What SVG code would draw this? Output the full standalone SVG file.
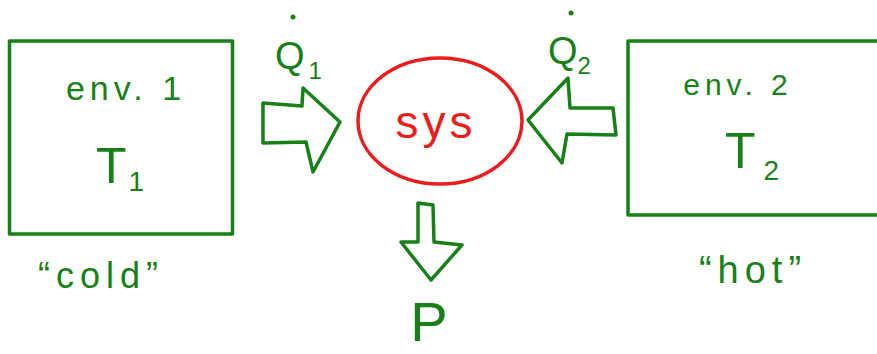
<svg xmlns="http://www.w3.org/2000/svg" width="877" height="354" viewBox="0 0 877 354">
<style>
.g{fill:none;stroke:#178017;stroke-width:3.5;stroke-linejoin:round;stroke-linecap:round}
.gt{fill:#178017;font-family:"Liberation Sans",Arial,sans-serif}
.r{fill:none;stroke:#ec1c1c;stroke-width:3.5}
.rt{fill:#ec1c1c;font-family:"Liberation Sans",Arial,sans-serif}
</style>
<rect width="877" height="354" fill="#fff"/>
<g id="env1">
<rect class="g" x="9.5" y="41" width="223" height="193"/>
<text class="gt" x="126" y="100" font-size="34" text-anchor="middle" letter-spacing="5">env. 1</text>
<text class="gt" x="120" y="183" font-size="50" text-anchor="middle">T<tspan font-size="28" dx="2" dy="8">1</tspan></text>
<text class="gt" x="101" y="288" font-size="36" text-anchor="middle" letter-spacing="6">“cold”</text>
</g>
<g id="env2">
<rect class="g" x="628" y="41" width="260" height="174"/>
<text class="gt" x="738" y="95" font-size="30" text-anchor="middle" letter-spacing="5">env. 2</text>
<text class="gt" x="752" y="168" font-size="50" text-anchor="middle">T<tspan font-size="28" dx="8" dy="12">2</tspan></text>
<text class="gt" x="753" y="283" font-size="38" text-anchor="middle" letter-spacing="6">“hot”</text>
</g>
<g id="sys">
<ellipse class="r" cx="440" cy="121" rx="82" ry="63"/>
<text class="rt" x="436" y="138" font-size="46" text-anchor="middle" letter-spacing="4">sys</text>
</g>
<g id="connectors">
<g id="q1">
<polygon class="g" points="263,103 302,106 303,88 340,122 313,172 306,142 263,143"/>
<circle cx="293" cy="17" r="2.5" fill="#178017"/>
<text class="gt" x="275" y="69" font-size="38">Q<tspan font-size="24" dx="4" dy="10">1</tspan></text>
</g>
<g id="q2">
<polygon class="g" points="528,120 568,78 570,108 613,108 616,135 567,134 562,163"/>
<circle cx="571" cy="13" r="2.5" fill="#178017"/>
<text class="gt" x="548" y="64" font-size="38">Q<tspan font-size="24" dy="10">2</tspan></text>
</g>
<g id="pout">
<polygon class="g" points="418,203 433,205 434,242 462,245 431,280 401,242 418,242"/>
<text class="gt" x="429" y="341" font-size="56" text-anchor="middle">P</text>
</g>
</g>
</svg>
